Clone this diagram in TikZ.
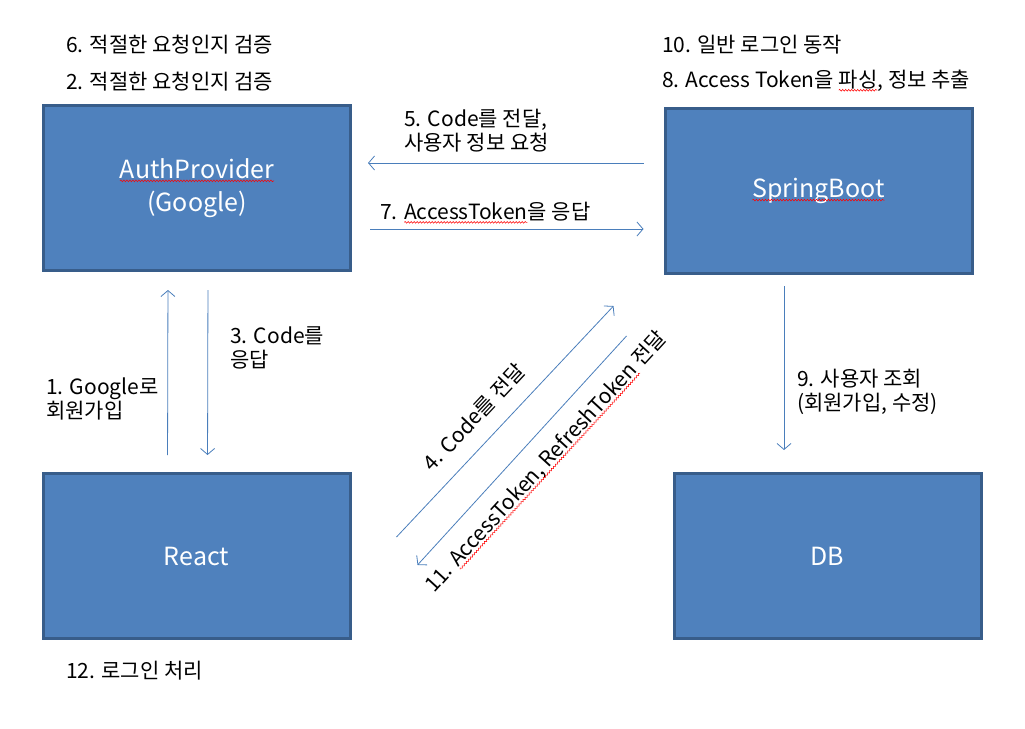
\documentclass[tikz,border=0pt]{standalone}
\usepackage{fontspec}
\setmainfont{Noto Sans CJK KR}
\usetikzlibrary{arrows.meta,decorations.pathmorphing}
\definecolor{boxfill}{HTML}{4F81BD}
\definecolor{boxline}{HTML}{385D8A}
\definecolor{linkblue}{HTML}{4A7EBB}
\newcommand\spellwave[1]{\tikz[baseline=(w.base)]{\node[draw=none, fill=none, inner sep=0pt, outer sep=0pt, minimum width=0pt, minimum height=0pt] (w) {#1};
    \draw[red, line width=.5pt, decorate, decoration={snake, amplitude=.9pt, segment length=3pt}] ([yshift=-2.5pt]w.base west) -- ([yshift=-2.5pt]w.base east);}}
\begin{document}
\begin{tikzpicture}[x=1pt,y=-1pt,
    block/.style={draw=boxline, fill=boxfill, line width=3pt, minimum width=307pt, minimum height=165pt, text=white, align=center, font=\fontsize{25}{33}\selectfont},
    note/.style={anchor=west, align=left, inner sep=0pt, font=\fontsize{21}{24}\selectfont},
    flow/.style={draw=linkblue, line width=.8pt, -{Straight Barb[length=6pt,width=14pt]}}]
    \useasboundingbox (0,0) rectangle (1025,728);
    % boxes
    \node [block] (auth) at (197,188) {\spellwave{AuthProvider}\\(Google)};
    \node [block] (spring) at (818.5,191) {\spellwave{SpringBoot}};
    \node [block] (react) at (196.5,556) {React};
    \node [block] (db) at (827.5,556) {DB};
    % notes
    \node [note] (chk6) at (66,45) {6. 적절한 요청인지 검증};
    \node [note] (chk2) at (66,82) {2. 적절한 요청인지 검증};
    \node [note] (login10) at (662,45) {10. 일반 로그인 동작};
    \node [note] (parse8) at (662,81) {8. Access Token을 \spellwave{파싱}, 정보 추출};
    \node [note] (done12) at (66,671) {12. 로그인 처리};
    % connectors
    \coordinate (c5) at ([yshift=28pt]spring.west);
    \coordinate (c7) at ([yshift=-38pt]spring.west);
    \coordinate (c9) at ([xshift=-34.5pt]spring.south);
    \draw [flow, shorten <=20pt, shorten >=16pt] (c5) -- (c5 -| auth.east);
    \draw [flow, shorten <=18pt, shorten >=20pt] (c7 -| auth.east) -- (c7);
    \draw [flow, shorten <=17pt, shorten >=18pt] ([xshift=-29pt]react.north) -- ([xshift=-29pt]auth.south);
    \draw [flow, shorten <=18pt, shorten >=17pt] ([xshift=11pt]auth.south) -- ([xshift=11pt]react.north);
    \draw [flow, shorten <=11pt, shorten >=22pt] (c9) -- (c9 |- db.north);
    \draw [flow] ([shift={(45,65)}]react.north east) -- ([shift={(-50,31)}]spring.south west);
    \draw [flow] ([shift={(-37,61)}]spring.south west) -- ([shift={(66,93)}]react.north east);
    % labels
    \node [note] (lbl5) at (404,131) {5. Code를 전달,\\사용자 정보 요청};
    \node [note] (lbl7) at (380,213) {7. \spellwave{AccessToken}을 응답};
    \node [note] (lbl3) at (230,348) {3. Code를\\응답};
    \node [note] (lbl1) at (46,399) {1. Google로\\회원가입};
    \node [note] (lbl9) at (797,392) {9. 사용자 조회\\(회원가입, 수정)};
    \node [note, anchor=center, rotate=46.8] (lbl4) at (474,417) {4. Code를 전달};
    \node [note, anchor=center, rotate=47.5] (lbl11) at (546,462) {11. \spellwave{AccessToken, RefreshToken} 전달};
\end{tikzpicture}
\end{document}
